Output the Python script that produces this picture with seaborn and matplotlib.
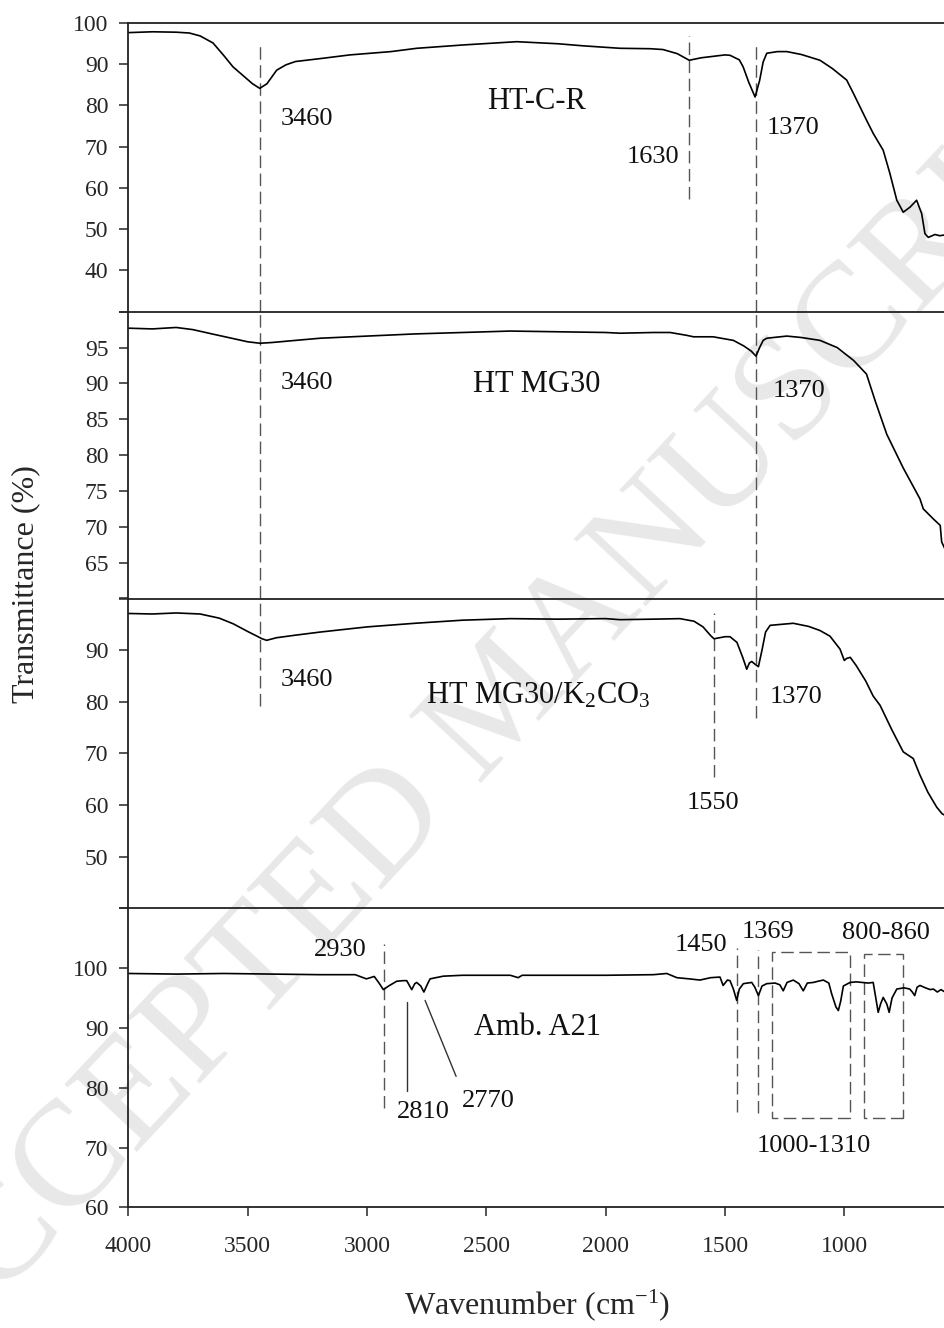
import matplotlib
matplotlib.use("Agg")
import matplotlib.pyplot as plt
from matplotlib.patches import Rectangle
import pandas as pd
import seaborn as sns

# ---------------- data ----------------
wn_htcr = [4000, 3900, 3800, 3745, 3700, 3646, 3600, 3562, 3520, 3480, 3450, 3420, 3379, 3340, 3300,
           3197, 3072, 2900, 2792, 2600, 2373, 2200, 2095, 1940, 1814, 1760, 1700, 1650, 1600, 1500,
           1479, 1440, 1424, 1400, 1374, 1355, 1340, 1325, 1280, 1241, 1180, 1102, 1050, 990, 962,
           907, 879, 837, 809, 780, 753, 725, 697, 676, 662, 648, 620, 600, 578]
t_htcr = [97.6, 97.8, 97.7, 97.5, 96.8, 95.1, 92.0, 89.3, 87.2, 85.2, 84.1, 85.2, 88.5, 89.8, 90.6,
          91.3, 92.2, 93.0, 93.8, 94.6, 95.4, 94.9, 94.4, 93.8, 93.7, 93.5, 92.5, 90.9, 91.5, 92.2,
          92.1, 91.0, 89.3, 85.5, 82.0, 86.0, 90.5, 92.6, 93.0, 93.0, 92.3, 90.9, 88.9, 86.1, 82.9,
          76.4, 73.2, 69.1, 63.5, 57.0, 54.1, 55.3, 57.0, 53.8, 48.9, 48.0, 48.7, 48.4, 48.6]

wn_mg30 = [4000, 3900, 3800, 3730, 3650, 3561, 3500, 3449, 3400, 3300, 3197, 3000, 2800, 2600, 2400,
           2200, 2000, 1940, 1800, 1730, 1660, 1632, 1550, 1465, 1420, 1390, 1370, 1355, 1340, 1325,
           1241, 1180, 1102, 1030, 961, 907, 870, 822, 753, 683, 669, 627, 598, 592, 578]
t_mg30 = [97.7, 97.6, 97.8, 97.5, 96.9, 96.25, 95.8, 95.6, 95.7, 96.0, 96.3, 96.6, 96.9, 97.1, 97.3,
          97.2, 97.1, 97.0, 97.1, 97.1, 96.7, 96.5, 96.5, 96.0, 95.2, 94.5, 93.8, 95.0, 96.0, 96.3,
          96.6, 96.4, 96.0, 95.0, 93.2, 91.3, 87.5, 82.9, 78.2, 73.9, 72.5, 71.1, 70.2, 67.9, 66.9]

wn_k2co3 = [4000, 3900, 3800, 3700, 3620, 3561, 3500, 3440, 3421, 3380, 3300, 3197, 3000, 2800, 2600,
            2400, 2200, 2000, 1940, 1800, 1689, 1630, 1592, 1560, 1546, 1500, 1479, 1450, 1425, 1409,
            1398, 1388, 1375, 1360, 1345, 1330, 1311, 1214, 1150, 1102, 1060, 1018, 1000, 990, 975,
            950, 910, 879, 850, 800, 753, 711, 683, 650, 613, 590, 578]
t_k2co3 = [97.1, 97.0, 97.2, 97.0, 96.2, 95.1, 93.6, 92.2, 91.9, 92.4, 92.9, 93.5, 94.5, 95.2, 95.8,
           96.1, 96.0, 96.1, 95.9, 96.0, 96.1, 95.6, 94.5, 92.8, 92.2, 92.6, 92.6, 91.5, 88.5, 86.3,
           87.5, 87.8, 87.3, 86.8, 90.0, 93.5, 94.8, 95.2, 94.6, 93.8, 92.7, 90.2, 88.0, 88.4, 88.6,
           87.0, 84.0, 81.1, 79.3, 74.5, 70.3, 69.0, 65.8, 62.5, 59.6, 58.3, 58.0]

wn_a21 = [4000, 3800, 3600, 3400, 3200, 3050, 3003, 2970, 2950, 2932, 2910, 2876, 2850, 2834, 2813,
          2800, 2792, 2775, 2762, 2745, 2736, 2681, 2600, 2400, 2367, 2350, 2200, 2000, 1800, 1744,
          1702, 1650, 1605, 1560, 1521, 1508, 1490, 1479, 1465, 1451, 1440, 1423, 1388, 1375, 1360,
          1345, 1325, 1290, 1270, 1256, 1240, 1214, 1190, 1172, 1155, 1130, 1110, 1088, 1065, 1053,
          1035, 1025, 1015, 1004, 976, 950, 900, 879, 868, 858, 848, 837, 822, 812, 800, 780, 750,
          726, 715, 705, 695, 683, 660, 640, 627, 610, 595, 578]
t_a21 = [99.1, 99.0, 99.1, 99.0, 98.9, 98.9, 98.2, 98.6, 97.5, 96.4, 97.0, 97.8, 97.9, 97.9, 96.4,
         97.4, 97.6, 97.0, 96.0, 97.5, 98.2, 98.65, 98.8, 98.8, 98.4, 98.8, 98.8, 98.8, 98.9, 99.1,
         98.4, 98.2, 98.0, 98.4, 98.5, 97.1, 98.0, 97.9, 96.5, 94.6, 96.5, 97.4, 97.6, 96.8, 95.4,
         97.0, 97.4, 97.5, 97.2, 96.2, 97.6, 98.0, 97.4, 96.2, 97.5, 97.6, 97.8, 98.0, 97.5, 95.7,
         93.5, 92.9, 94.5, 97.0, 97.6, 97.7, 97.5, 97.6, 95.0, 92.6, 94.0, 95.1, 94.0, 92.6, 95.0,
         96.5, 96.7, 96.5, 96.0, 95.4, 96.8, 97.1, 96.7, 96.4, 96.5, 96.0, 96.4, 96.0]

sample_names = ["HT-C-R", "HT MG30", "HT MG30/K$_2$CO$_3$", "Amb. A21"]
y_limits = [(30, 100), (60, 100), (40, 100), (60, 110)]
y_ticks = [list(range(30, 101, 10)), list(range(60, 101, 5)),
           list(range(40, 101, 10)), list(range(60, 111, 10))]
y_labelled = [list(range(40, 101, 10)), list(range(65, 96, 5)),
              list(range(50, 91, 10)), list(range(60, 101, 10))]
x_ticks = [4000, 3500, 3000, 2500, 2000, 1500, 1000]

# dashed marker lines: (wavenumber, ymin, ymax) per panel
dashed_lines = [
    [(3450, 30, 94.3), (1650, 57.4, 96.8), (1370, 30, 94.3)],
    [(3450, 60, 100), (1370, 60, 100)],
    [(3450, 79.1, 100), (1370, 76.8, 100), (1548, 65.5, 97.1)],
    [(2928, 76.6, 104.1), (1451, 76.0, 103.3), (1363, 75.8, 103.0)],
]
# solid leader lines in bottom panel: (x0, y0, x1, y1)
leader_lines = [(2831, 94.3, 2831, 79.4), (2757, 94.6, 2627, 81.9)]
# dashed boxes in bottom panel: (wn_high, wn_low, t_low, t_high)
boxes = [(1304, 976, 75.0, 102.7), (916, 753, 74.9, 102.3)]
# peak labels per panel: (text, wavenumber, transmittance)
peak_labels = [
    [("3460", 3253, 76.7), ("1630", 1800, 67.5), ("1370", 1215, 74.5)],
    [("3460", 3253, 90.0), ("1370", 1190, 89.0)],
    [("3460", 3253, 84.2), ("1550", 1552, 60.4), ("1370", 1203, 81.0)],
    [("2930", 3114, 103.1), ("2810", 2766, 76.0), ("2770", 2493, 77.7), ("1450", 1601, 103.9),
     ("1369", 1320, 106.1), ("800-860", 825, 105.8), ("1000-1310", 1127, 70.3)],
]
# sample-name positions (wavenumber, transmittance, vertical alignment)
name_pos = [(2289, 80.9, "center"), (2288, 89.8, "center"), (2284, 79.7, "baseline"), (2284, 90.15, "center")]

spectra = [(wn_htcr, t_htcr), (wn_mg30, t_mg30), (wn_k2co3, t_k2co3), (wn_a21, t_a21)]

# ---------------- style ----------------
sns.set_style("ticks")
plt.rcParams["font.family"] = ["Liberation Serif", "DejaVu Serif"]
plt.rcParams["mathtext.fontset"] = "custom"
plt.rcParams["mathtext.rm"] = "Liberation Serif"
plt.rcParams["mathtext.it"] = "Liberation Serif:italic"
plt.rcParams["mathtext.bf"] = "Liberation Serif:bold"

W, H = 945, 1328
fig = plt.figure(figsize=(W / 100, H / 100), dpi=100)

# watermark of the source page
fig.text(505 / W, 1 - 705 / H, "ACCEPTED MANUSCRIPT", rotation=47, rotation_mode="anchor",
         ha="center", va="center", fontsize=108, color="#e8e8e8", zorder=-5)

# panel pixel extents (top, bottom)
panel_px = [(22.7, 311.7), (311.7, 598.5), (598.5, 908.3), (908.3, 1207.3)]
left_px = 128.5
X_RIGHT = 578

grey = "#555555"
dash = (0, (9, 4))

axes = []
for i, (top, bot) in enumerate(panel_px):
    ax = fig.add_axes([left_px / W, 1 - bot / H, 1 - left_px / W, (bot - top) / H])
    ax.set_facecolor("none")
    axes.append(ax)
    wn, tr = spectra[i]
    df = pd.DataFrame({"Wavenumber": wn, "Transmittance": tr})
    sns.lineplot(data=df, x="Wavenumber", y="Transmittance", sort=False, estimator=None,
                 color="black", lw=1.2, ax=ax)
    ax.set_xlim(4000, X_RIGHT)
    ax.set_ylim(*y_limits[i])
    ax.set_yticks(y_ticks[i])
    ax.set_yticklabels([str(v) if v in y_labelled[i] else "" for v in y_ticks[i]])
    ax.tick_params(axis="y", direction="out", length=6.5, width=1.1, labelsize=17, pad=8)
    ax.set_xlabel("")
    ax.set_ylabel("")
    for s in ["left", "top", "bottom"]:
        ax.spines[s].set_linewidth(1.3)
        ax.spines[s].set_color("#222222")
    ax.spines["right"].set_visible(False)
    if i < 3:
        ax.spines["bottom"].set_visible(False)
        ax.tick_params(axis="x", bottom=False, labelbottom=False)
    else:
        ax.set_xticks(x_ticks)
        ax.set_xticklabels([str(v) for v in x_ticks])
        ax.tick_params(axis="x", direction="out", length=6.5, width=1.1, labelsize=17, pad=14)

    for (x, y0, y1) in dashed_lines[i]:
        ax.vlines(x, y0, y1, colors=grey, linestyles=dash, lw=1.0, zorder=1)
    for (txt, x, y) in peak_labels[i]:
        ax.text(x, y, txt, ha="center", va="center", fontsize=19, color="#111111")
    nx, ny, va = name_pos[i]
    ax.text(nx, ny, sample_names[i], ha="center", va=va, fontsize=22, color="#111111")

ax4 = axes[3]
for (x0, y0, x1, y1) in leader_lines:
    ax4.plot([x0, x1], [y0, y1], color="#333333", lw=1.0)
for (xh, xl, yl, yh) in boxes:
    ax4.add_patch(Rectangle((xl, yl), xh - xl, yh - yl, fill=False, edgecolor=grey,
                            linestyle=dash, lw=1.0))

ax4.set_xlabel("Wavenumber (cm$^{-1}$)", fontsize=23, labelpad=22)
fig.text(26 / W, 1 - 584 / H, "Transmittance (%)", rotation=90, ha="center", va="center", fontsize=23)

fig.savefig("out.png", dpi=100)
